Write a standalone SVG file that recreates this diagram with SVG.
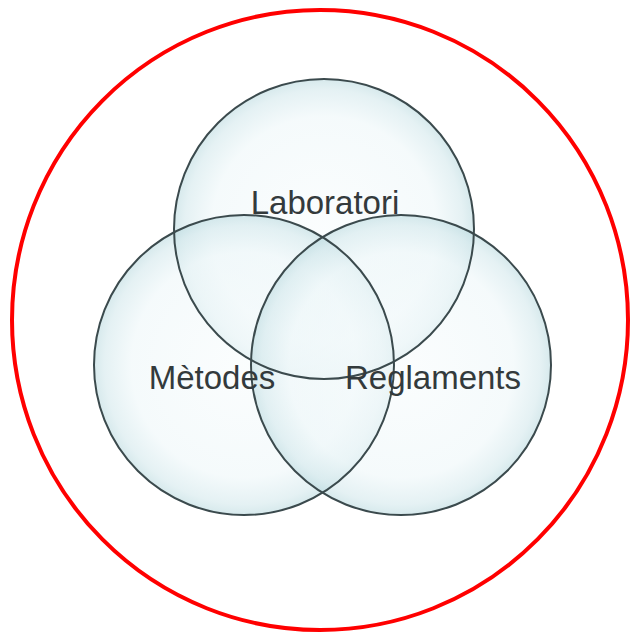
<svg xmlns="http://www.w3.org/2000/svg" width="630" height="634" viewBox="0 0 630 634">
  <defs>
    <radialGradient id="bubble" cx="50%" cy="50%" r="50%">
      <stop offset="0" stop-color="#f8fcfd"/>
      <stop offset="0.75" stop-color="#eef7f9"/>
      <stop offset="0.93" stop-color="#d3e8ec"/>
      <stop offset="1" stop-color="#bcdbe0"/>
    </radialGradient>
    <style>
      .bubble { fill: url(#bubble); fill-opacity: 0.6; stroke: none; }
      .outline { fill: none; stroke: #3b4a4d; stroke-width: 2; }
      .label { font-family: "Liberation Sans", Arial, sans-serif; font-size: 33px; fill: #333a3c; text-anchor: middle; }
      .frame { fill: none; stroke: #ff0000; stroke-width: 4; }
    </style>
  </defs>
  <rect width="630" height="634" fill="#ffffff"/>
  <ellipse class="frame" cx="320" cy="320" rx="308" ry="310"/>
  <g id="node-laboratori">
    <circle class="bubble" cx="324" cy="229" r="150"/>
  </g>
  <g id="node-metodes">
    <circle class="bubble" cx="244" cy="365" r="150"/>
  </g>
  <g id="node-reglaments">
    <circle class="bubble" cx="401" cy="365" r="150"/>
  </g>
  <g id="outlines">
    <circle class="outline" cx="324" cy="229" r="150"/>
    <circle class="outline" cx="244" cy="365" r="150"/>
    <circle class="outline" cx="401" cy="365" r="150"/>
  </g>
  <g id="labels">
    <text class="label" x="325" y="214">Laboratori</text>
    <text class="label" x="212" y="389">Mètodes</text>
    <text class="label" x="433" y="389">Reglaments</text>
  </g>
  <g id="connectors"/>
</svg>
